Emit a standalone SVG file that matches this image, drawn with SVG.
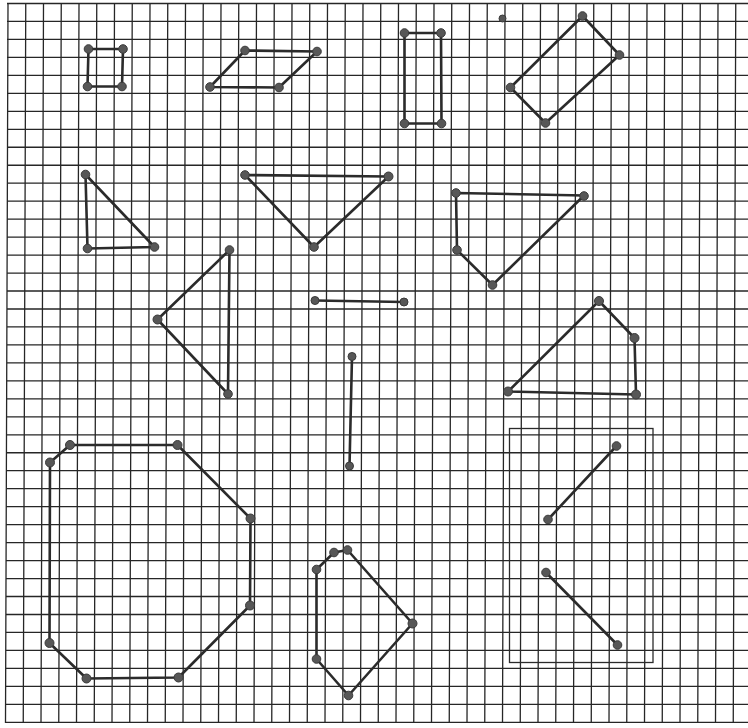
<svg xmlns="http://www.w3.org/2000/svg" width="748" height="728" viewBox="0 0 748 728">
<style>
.grid{stroke:#262626;stroke-width:1.3;fill:none}
.sh{stroke:#2b2b2b;stroke-width:2.6;fill:none;stroke-linejoin:round;stroke-linecap:round}
.frame{stroke:#2b2b2b;stroke-width:1.3;fill:none}
.dot{fill:#575757;stroke:#3a3a3a;stroke-width:1}
</style>
<rect width="748" height="728" fill="#ffffff"/>
<g id="grid" class="grid">
<path d="M8 4L5.5 723M25.75 4L23.25 723M43.5 4L41 723M61.25 4L58.75 723M79 4L76.5 723M96.75 4L94.25 723M114.5 4L112 723M132.25 4L129.75 723M150 4L147.5 723M167.75 4L165.25 723M185.5 4L183 723M203.25 4L200.75 723M221 4L218.5 723M238.75 4L236.25 723M256.5 4L254 723M274.25 4L271.75 723M292 4L289.5 723M309.75 4L307.25 723M327.5 4L325 723M345.25 4L342.75 723M363 4L360.5 723M380.75 4L378.25 723M398.5 4L396 723M416.25 4L413.75 723M434 4L431.5 723M451.75 4L449.25 723M469.5 4L467 723M487.25 4L484.75 723M505 4L502.5 723M522.75 4L520.25 723M540.5 4L538 723M558.25 4L555.75 723M576 4L573.5 723M593.75 4L591.25 723M611.5 4L609 723M629.25 4L626.75 723M647 4L644.5 723M664.75 4L662.25 723M682.5 4L680 723M700.25 4L697.75 723M718 4L715.5 723M735.75 4L733.25 723"/>
<path d="M7 3.5H748M7 21.47H748M7 39.44H748M7 57.41H748M7 75.38H748M7 93.35H748M7 111.32H748M7 129.29H748M7 147.26H748M7 165.23H748M7 183.2H748M7 201.17H748M7 219.14H748M7 237.11H748M7 255.08H748M7 273.05H748M7 291.02H748M7 308.99H748M7 326.96H748M7 344.93H748M7 362.9H748M7 380.87H748M7 398.84H748M7 416.81H748M7 434.78H748M7 452.75H748M7 470.72H748M7 488.69H748M6 506.66H748M6 524.63H748M6 542.6H748M6 560.57H748M6 578.54H748M6 596.51H748M6 614.48H748M6 632.45H748M6 650.42H748M6 668.39H748M6 686.36H748M6 704.33H748M5.5 722.3H748"/>
</g>
<g id="square">
<polygon class="sh" points="88.5,49 123,49 122,86.5 87.5,86.5"/>
<circle class="dot" cx="88.5" cy="49" r="4.3"/><circle class="dot" cx="123" cy="49" r="4.3"/><circle class="dot" cx="122" cy="86.5" r="4.3"/><circle class="dot" cx="87.5" cy="86.5" r="4.3"/>
</g>
<g id="parallelogram">
<polygon class="sh" points="210,87 245,50.5 317,51.5 279,87.5"/>
<circle class="dot" cx="210" cy="87" r="4.3"/><circle class="dot" cx="245" cy="50.5" r="4.3"/><circle class="dot" cx="317" cy="51.5" r="4.3"/><circle class="dot" cx="279" cy="87.5" r="4.3"/>
</g>
<g id="tall-rectangle">
<polygon class="sh" points="404.5,33 441,33 441.5,123.5 404.5,123.5"/>
<circle class="dot" cx="404.5" cy="33" r="4.3"/><circle class="dot" cx="441" cy="33" r="4.3"/><circle class="dot" cx="441.5" cy="123.5" r="4.3"/><circle class="dot" cx="404.5" cy="123.5" r="4.3"/>
</g>
<g id="single-dot">
<circle class="dot" cx="502.5" cy="18.5" r="3.5"/>
</g>
<g id="tilted-rectangle">
<polygon class="sh" points="510.5,87.5 582.5,16 619.5,55 545.5,123"/>
<circle class="dot" cx="510.5" cy="87.5" r="4.3"/><circle class="dot" cx="582.5" cy="16" r="4.3"/><circle class="dot" cx="619.5" cy="55" r="4.3"/><circle class="dot" cx="545.5" cy="123" r="4.3"/>
</g>
<g id="right-triangle">
<polygon class="sh" points="85.5,174.5 87.5,248.5 154.5,247"/>
<circle class="dot" cx="85.5" cy="174.5" r="4.3"/><circle class="dot" cx="87.5" cy="248.5" r="4.3"/><circle class="dot" cx="154.5" cy="247" r="4.3"/>
</g>
<g id="inverted-triangle">
<polygon class="sh" points="245,175 388.5,176.5 314,247"/>
<circle class="dot" cx="245" cy="175" r="4.3"/><circle class="dot" cx="388.5" cy="176.5" r="4.5"/><circle class="dot" cx="314" cy="247" r="4.3"/>
</g>
<g id="pentagon-upper">
<polygon class="sh" points="456,193 584,195.5 492.5,285 457,250"/>
<circle class="dot" cx="456" cy="193" r="4.3"/><circle class="dot" cx="584" cy="196" r="4.3"/><circle class="dot" cx="492.5" cy="285" r="4.3"/><circle class="dot" cx="457" cy="250" r="4.3"/>
</g>
<g id="left-triangle">
<polygon class="sh" points="229.5,250 157.5,319.5 228,394"/>
<circle class="dot" cx="229.5" cy="250" r="4.3"/><circle class="dot" cx="157.5" cy="319.5" r="4.5"/><circle class="dot" cx="228" cy="394" r="4.3"/>
</g>
<g id="horizontal-segment">
<line class="sh" x1="315" y1="300.5" x2="404" y2="302"/>
<circle class="dot" cx="315" cy="300.5" r="4"/><circle class="dot" cx="404" cy="302" r="4"/>
</g>
<g id="vertical-segment">
<line class="sh" x1="352" y1="356.5" x2="349.5" y2="466"/>
<circle class="dot" cx="352" cy="356.5" r="4"/><circle class="dot" cx="349.5" cy="466" r="4"/>
</g>
<g id="pentagon-right">
<polygon class="sh" points="508,391.5 599,301 634.5,338 636,394.5"/>
<circle class="dot" cx="508" cy="391.5" r="4.5"/><circle class="dot" cx="599" cy="301" r="4.5"/><circle class="dot" cx="634.5" cy="338" r="4.5"/><circle class="dot" cx="636" cy="394.5" r="4.5"/>
</g>
<g id="octagon">
<polygon class="sh" points="70,445 177.5,445 250.5,518.5 250,605.5 178.5,677.5 86.5,678.5 49.5,643 50,462.5"/>
<circle class="dot" cx="70" cy="445" r="4.5"/><circle class="dot" cx="177.5" cy="445" r="4.5"/><circle class="dot" cx="250.5" cy="518.5" r="4.5"/><circle class="dot" cx="250" cy="605.5" r="4.5"/><circle class="dot" cx="178.5" cy="677.5" r="4.5"/><circle class="dot" cx="86.5" cy="678.5" r="4.5"/><circle class="dot" cx="49.5" cy="643" r="4.5"/><circle class="dot" cx="50" cy="462.5" r="4.5"/>
</g>
<g id="hexagon-bottom">
<polygon class="sh" points="316.5,569.5 334,552.5 347.5,550 412.5,623.5 348.5,695.5 316.5,659"/>
<circle class="dot" cx="316.5" cy="569.5" r="4.3"/><circle class="dot" cx="334" cy="552.5" r="4.3"/><circle class="dot" cx="347.5" cy="550" r="4.3"/><circle class="dot" cx="412.5" cy="623.5" r="4.5"/><circle class="dot" cx="348.5" cy="695.5" r="4.3"/><circle class="dot" cx="316.5" cy="659" r="4.3"/>
</g>
<g id="framed-segments">
<rect class="frame" x="509.5" y="428.5" width="143.5" height="234"/>
<line class="sh" x1="616.5" y1="446" x2="548" y2="519.5"/>
<circle class="dot" cx="616.5" cy="446" r="4.3"/><circle class="dot" cx="548" cy="519.5" r="4.3"/>
<line class="sh" x1="546" y1="572.5" x2="617.5" y2="645"/>
<circle class="dot" cx="546" cy="572.5" r="4.3"/><circle class="dot" cx="617.5" cy="645" r="4.3"/>
</g>
</svg>
